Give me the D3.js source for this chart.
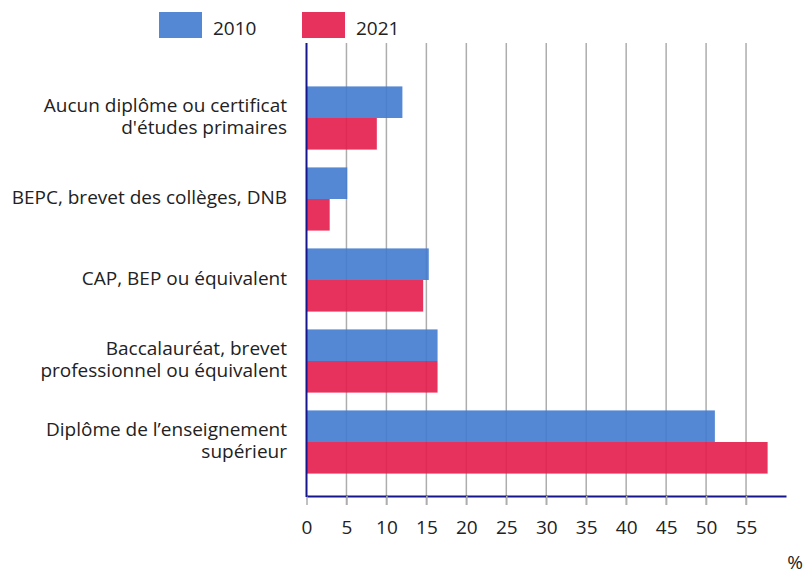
<!DOCTYPE html>
<html>
<head>
<meta charset="utf-8">
<script src="https://cdn.jsdelivr.net/npm/d3@7"></script>
<style>
  body { margin: 0; background: #fff; }
  svg text { font-family: "Open Sans", sans-serif; fill: #222; }
</style>
</head>
<body>
<svg width="808" height="574"></svg>
<script>
// data
const categories = [
    ['Aucun diplôme ou certificat', "d'études primaires"],
    ['BEPC, brevet des collèges, DNB'],
    ['CAP, BEP ou équivalent'],
    ['Baccalauréat, brevet', 'professionnel ou équivalent'],
    ['Diplôme de l’enseignement', 'supérieur']
]
const years = ['2010', '2021']
const values2010 = [12, 5.1, 15.3, 16.4, 51.1]
const values2021 = [8.8, 2.9, 14.6, 16.4, 57.7]
const xTicks = [0, 5, 10, 15, 20, 25, 30, 35, 40, 45, 50, 55]
const colors = ['#427bcf', '#e51c4d']

const dim = { left: 306.5, right: 786, top: 43, bottom: 496 }
const fontSize = 19
const svg = d3.select('svg')

const x = d3.scaleLinear().domain([0, 60]).range([dim.left, dim.right])
const keys = categories.map((c, i) => i)
const y = d3.scaleBand()
    .domain(keys)
    .range([77.5, 482.5])
    .paddingInner(0.22)
    .paddingOuter(0.11)
const ySub = d3.scaleBand().domain(years).range([0, y.bandwidth()])

// gridlines, running through the axis to form the ticks
svg.append('g')
    .selectAll('line')
    .data(xTicks.filter(d => d > 0))
    .join('line')
    .attr('x1', d => x(d)).attr('x2', d => x(d))
    .attr('y1', dim.top).attr('y2', dim.bottom + 9)
    .attr('stroke', '#adadad')
    .attr('stroke-width', 1.5)

// bars
const series = [values2010, values2021]
series.forEach((vals, s) => {
    svg.append('g')
        .selectAll('rect')
        .data(vals)
        .join('rect')
        .attr('x', x(0))
        .attr('y', (d, i) => y(i) + ySub(years[s]))
        .attr('width', d => x(d) - x(0))
        .attr('height', ySub.bandwidth())
        .attr('fill', colors[s])
        .attr('fill-opacity', 0.9)
})

// axes
const xAxis = d3.axisBottom(x).tickValues(xTicks).tickSize(9).tickSizeOuter(0)
const gx = svg.append('g')
    .attr('transform', `translate(0, ${dim.bottom})`)
    .call(xAxis)
gx.select('.domain').attr('stroke', '#16168c').attr('stroke-width', 2)
gx.selectAll('.tick line').attr('stroke', '#adadad').attr('stroke-width', 1.5)
gx.selectAll('.tick text')
    .attr('y', 25)
    .attr('font-size', fontSize)
    .attr('font-family', '"Open Sans", sans-serif')
    .attr('fill', '#222')

svg.append('line')
    .attr('x1', dim.left).attr('x2', dim.left)
    .attr('y1', dim.top).attr('y2', dim.bottom + 1)
    .attr('stroke', '#16168c')
    .attr('stroke-width', 2)

// category labels
const labels = svg.append('g')
labels.selectAll('text')
    .data(categories)
    .join('text')
    .attr('text-anchor', 'end')
    .attr('font-size', fontSize)
    .attr('x', 287)
    .attr('y', (d, i) => y(i) + y.bandwidth() / 2)
    .each(function(lines) {
        const t = d3.select(this)
        const off = -(lines.length - 1) * 22 / 2
        lines.forEach((line, j) => {
            t.append('tspan')
                .attr('x', 287)
                .attr('dy', j === 0 ? off + 5 : 22)
                .text(line)
        })
    })

// unit
svg.append('text')
    .attr('x', 803).attr('y', 569)
    .attr('text-anchor', 'end')
    .attr('font-size', fontSize)
    .text('%')

// legend
const legend = svg.append('g')
years.forEach((yr, i) => {
    const lx = 159 + i * 143
    legend.append('rect')
        .attr('x', lx).attr('y', 12)
        .attr('width', 43).attr('height', 26)
        .attr('fill', colors[i]).attr('fill-opacity', 0.9)
    legend.append('text')
        .attr('x', lx + 54).attr('y', 35)
        .attr('font-size', fontSize)
        .text(yr)
})
</script>
</body>
</html>
